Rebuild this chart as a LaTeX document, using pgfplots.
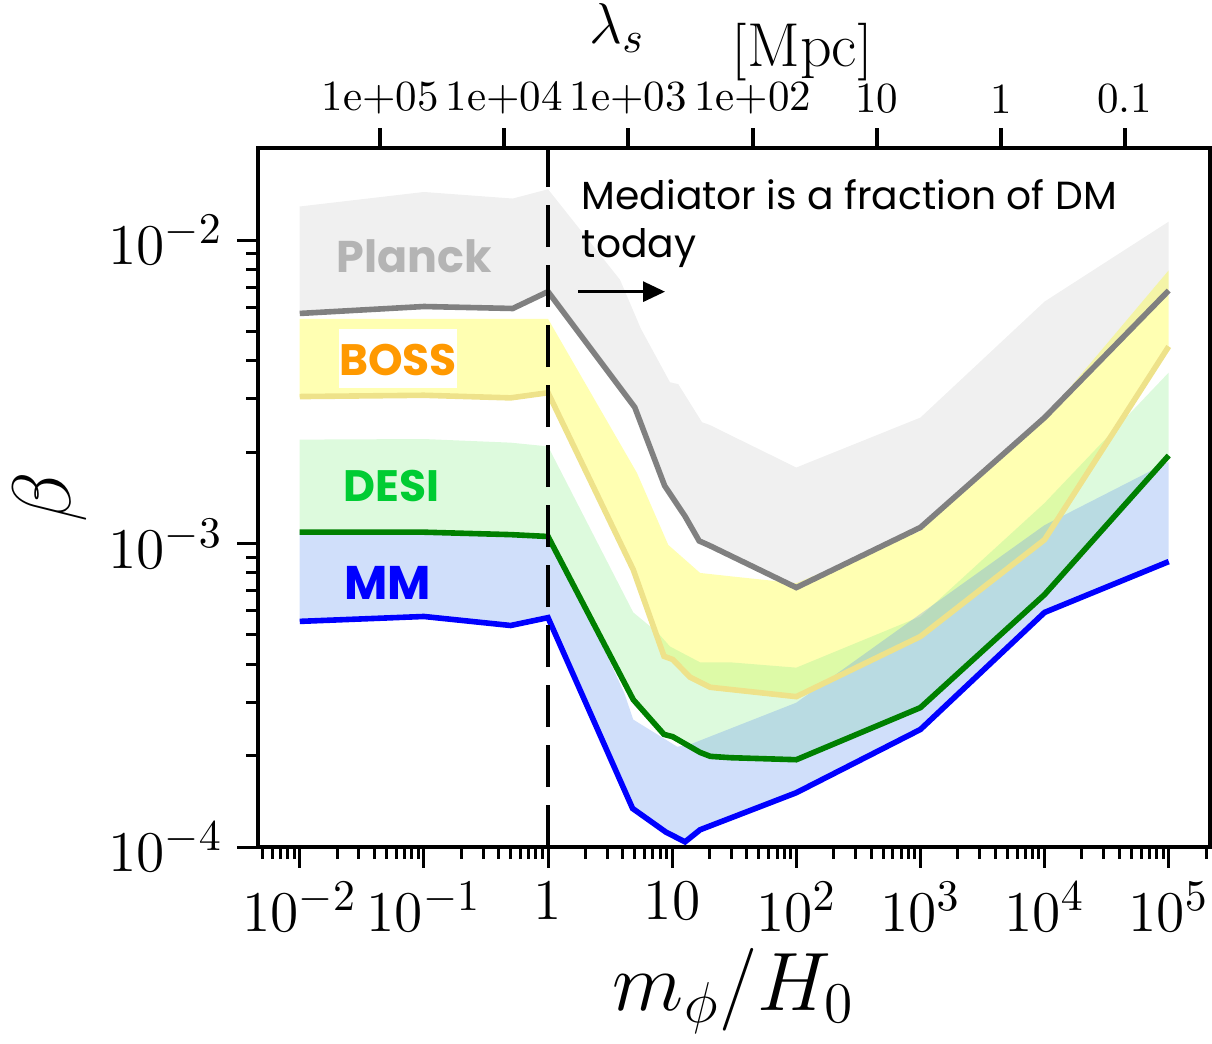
\documentclass[border=0pt]{standalone}
\usepackage{fontspec}
\usepackage{pgfplots}
\pgfplotsset{compat=1.18}
\usetikzlibrary{arrows.meta}
\newfontfamily\gothic{Poppins}
\definecolor{bandgray}{RGB}{211,211,211}
\definecolor{bandyellow}{RGB}{255,255,0}
\definecolor{bandgreen}{RGB}{144,238,144}
\definecolor{bandblue}{RGB}{100,149,237}
\definecolor{plancklinec}{RGB}{128,128,128}
\definecolor{bosslinec}{RGB}{238,226,138}
\definecolor{desilinec}{RGB}{0,128,0}
\definecolor{mmlinec}{RGB}{0,0,255}
\definecolor{plancktext}{RGB}{180,180,180}
\definecolor{bosstext}{RGB}{255,153,0}
\definecolor{desitext}{RGB}{0,204,51}
\definecolor{mmtext}{RGB}{0,0,255}
\begin{document}
\begin{tikzpicture}
\path[use as bounding box] (-64.5pt,-49pt) rectangle (238.5pt,211.75pt);
\begin{axis}[
  at={(0,0)}, anchor=south west,
  scale only axis, width=238pt, height=174.75pt,
  xmode=log, ymode=log,
  xmin=0.00461, xmax=2.15e5, ymin=1e-4, ymax=0.0201,
  axis line style={line width=1pt},
  tick style={line width=0.75pt, black},
  tick align=outside,
  major tick length=5.25pt, minor tick length=3pt,
  xtick pos=left, ytick pos=left,
  xtick={0.01,0.1,1,10,100,1000,10000,100000},
  xticklabels={$10^{-2}$,$10^{-1}$,$1$,$10$,$10^{2}$,$10^{3}$,$10^{4}$,$10^{5}$},
  minor xtick={0.005,0.006,0.007,0.008,0.009,0.02,0.03,0.04,0.05,0.06,0.07,0.08,0.09,0.2,0.3,0.4,0.5,0.6,0.7,0.8,0.9,2,3,4,5,6,7,8,9,20,30,40,50,60,70,80,90,200,300,400,500,600,700,800,900,2000,3000,4000,5000,6000,7000,8000,9000,20000,30000,40000,50000,60000,70000,80000,90000,200000},
  ytick={1e-4,1e-3,1e-2},
  yticklabels={$10^{-4}$,$10^{-3}$,$10^{-2}$},
  minor ytick={2e-4,3e-4,4e-4,5e-4,6e-4,7e-4,8e-4,9e-4,2e-3,3e-3,4e-3,5e-3,6e-3,7e-3,8e-3,9e-3},
  xticklabel style={font=\fontsize{15}{15}\selectfont},
  yticklabel style={font=\fontsize{15}{15}\selectfont},
  xlabel={$m_\phi/H_0$},
  xlabel style={font=\fontsize{21}{21}\selectfont, at={(axis description cs:0.5,-0.2332)}, anchor=base},
  ylabel={$\beta$},
  ylabel style={font=\fontsize{21}{21}\selectfont, at={(axis description cs:-0.2185,0.5)}, anchor=center},
  clip=true,
]
% Planck band
\addplot[draw=none, fill=bandgray, fill opacity=0.35] coordinates {
 (0.01,1.29e-2) (0.1,1.44e-2) (0.52,1.37e-2) (1,1.47e-2) (3.8,7.4e-3) (5.6,5.1e-3) (9.6,3.4e-3) (11.2,3.35e-3) (17.4,2.51e-3) (20,2.46e-3) (100,1.78e-3) (1000,2.6e-3) (10000,6.27e-3) (100000,1.15e-2)
 (100000,6.82e-3) (10000,2.6e-3) (1000,1.13e-3) (100,7.16e-4) (20,9.85e-4) (16.5,1.02e-3) (12.7,1.23e-3) (8.7,1.55e-3) (5,2.81e-3) (1,6.76e-3) (0.52,5.95e-3) (0.1,6.04e-3) (0.01,5.73e-3)
} -- cycle;
% BOSS band
\addplot[draw=none, fill=bandyellow, fill opacity=0.3] coordinates {
 (0.01,5.5e-3) (0.1,5.5e-3) (1,5.5e-3) (5.2,1.71e-3) (9.3,9.9e-4) (16.8,8.0e-4) (29.5,7.8e-4) (100,7.4e-4) (1000,1.1e-3) (10000,2.6e-3) (100000,7.95e-3)
 (100000,4.46e-3) (10000,1.03e-3) (1000,4.94e-4) (100,3.13e-4) (20.3,3.36e-4) (13.9,3.63e-4) (10.1,4.15e-4) (8.6,4.25e-4) (4.86,8.2e-4) (1,3.14e-3) (0.5,3.02e-3) (0.1,3.08e-3) (0.01,3.05e-3)
} -- cycle;
% DESI band
\addplot[draw=none, fill=bandgreen, fill opacity=0.3] coordinates {
 (0.01,2.2e-3) (0.1,2.21e-3) (0.5,2.15e-3) (1,2.09e-3) (4.86,5.93e-4) (7.6,5.1e-4) (9.6,4.58e-4) (16.8,4.06e-4) (29.5,4.06e-4) (100,3.9e-4) (1000,5.75e-4) (10000,1.36e-3) (100000,3.66e-3)
 (100000,1.95e-3) (10000,6.79e-4) (1000,2.88e-4) (100,1.94e-4) (29.5,1.97e-4) (20.3,1.99e-4) (16.8,2.05e-4) (10.1,2.31e-4) (8.6,2.35e-4) (4.86,3.06e-4) (1,1.055e-3) (0.5,1.07e-3) (0.1,1.09e-3) (0.01,1.09e-3)
} -- cycle;
% MM band
\addplot[draw=none, fill=bandblue, fill opacity=0.3] coordinates {
 (0.01,1.09e-3) (0.1,1.09e-3) (0.5,1.07e-3) (1,1.06e-3) (2.2,5.6e-4) (4.1,3.23e-4) (4.86,2.63e-4) (11,2.14e-4) (14,2.18e-4) (100,2.99e-4) (10000,1.15e-3) (100000,1.86e-3)
 (100000,8.72e-4) (10000,5.93e-4) (1000,2.44e-4) (100,1.51e-4) (16.8,1.14e-4) (12.7,1.04e-4) (8.9,1.12e-4) (4.8,1.34e-4) (1,5.7e-4) (0.5,5.37e-4) (0.1,5.75e-4) (0.01,5.54e-4)
} -- cycle;
% lines
\addplot[plancklinec, line width=1.4pt] coordinates {
 (0.01,5.73e-3) (0.1,6.04e-3) (0.52,5.95e-3) (1,6.76e-3) (5,2.81e-3) (8.7,1.55e-3) (12.7,1.23e-3) (16.5,1.02e-3) (20,9.85e-4) (100,7.16e-4) (1000,1.13e-3) (10000,2.6e-3) (100000,6.82e-3)};
\addplot[bosslinec, line width=1.4pt] coordinates {
 (0.01,3.05e-3) (0.1,3.08e-3) (0.5,3.02e-3) (1,3.14e-3) (4.86,8.2e-4) (8.6,4.25e-4) (10.1,4.15e-4) (13.9,3.63e-4) (20.3,3.36e-4) (100,3.13e-4) (1000,4.94e-4) (10000,1.03e-3) (100000,4.46e-3)};
\addplot[desilinec, line width=1.4pt] coordinates {
 (0.01,1.09e-3) (0.1,1.09e-3) (0.5,1.07e-3) (1,1.055e-3) (4.86,3.06e-4) (8.6,2.35e-4) (10.1,2.31e-4) (16.8,2.05e-4) (20.3,1.99e-4) (29.5,1.97e-4) (100,1.94e-4) (1000,2.88e-4) (10000,6.79e-4) (100000,1.95e-3)};
\addplot[mmlinec, line width=1.4pt] coordinates {
 (0.01,5.54e-4) (0.1,5.75e-4) (0.5,5.37e-4) (1,5.7e-4) (4.8,1.34e-4) (8.9,1.12e-4) (12.7,1.04e-4) (16.8,1.14e-4) (100,1.51e-4) (1000,2.44e-4) (10000,5.93e-4) (100000,8.72e-4)};
% vertical dashed line
\addplot[black, line width=0.8pt, dash pattern=on 10.5pt off 4.5pt] coordinates {(1,1e-4) (1,0.0201)};
% arrow
\addplot[black, line width=0.75pt, -{Triangle[length=5.5pt,width=5pt]}] coordinates {(1.745,6.76e-3) (8.76,6.76e-3)};
% labels
\node[font=\gothic\bfseries\fontsize{11.1}{12}\selectfont, text=plancktext] at (axis cs:0.0833,8.85e-3) {Planck};
\node[fill=white, inner sep=0pt, minimum width=29.5pt, minimum height=14.75pt] at (axis cs:0.0619,4.06e-3) {};
\node[font=\gothic\bfseries\fontsize{11}{12}\selectfont, text=bosstext] at (axis cs:0.0619,4.03e-3) {BOSS};
\node[font=\gothic\bfseries\fontsize{11}{12}\selectfont, text=desitext] at (axis cs:0.0548,1.545e-3) {DESI};
\node[font=\gothic\bfseries\fontsize{11.8}{12}\selectfont, text=mmtext] at (axis cs:0.0514,7.41e-4) {MM};
\node[font=\gothic\fontsize{9.8}{10}\selectfont, anchor=base west, inner sep=0pt] at (axis cs:1.844,1.259e-2) {Mediator is a fraction of DM};
\node[font=\gothic\fontsize{9.8}{10}\selectfont, anchor=base west, inner sep=0pt] at (axis cs:1.844,8.75e-3) {today};
\end{axis}
% top axis labels: x in log10(m_phi/H0), lambda_s = 4448/(m_phi/H0) Mpc
\begin{axis}[
  at={(0,0)}, anchor=south west,
  scale only axis, width=238pt, height=174.75pt,
  xmin=-2.336, xmax=5.333, ymin=0, ymax=1,
  axis line style={line width=1pt},
  xtick pos=right, xticklabel pos=right,
  ytick=\empty,
  xtick={-1.352,-0.352,0.648,1.648,2.648,3.648,4.648},
  xticklabels={1e+05,1e+04,1e+03,1e+02,10,1,0.1},
  tick align=outside, major tick length=5pt,
  xticklabel style={font=\fontsize{10.75}{11}\selectfont},
  xlabel={\raisebox{0.38em}{$\lambda_s$}\hspace{1.4em}$[\mathrm{Mpc}]$},
  xlabel style={font=\fontsize{15.5}{16}\selectfont, at={(axis description cs:0.497,1.116)}, anchor=base},
]
\addplot[draw=none] coordinates {(0,0.5)};
\end{axis}
% top tick marks
\begin{axis}[
  at={(0,0)}, anchor=south west,
  scale only axis, width=238pt, height=174.75pt,
  xmin=-2.336, xmax=5.333, ymin=0, ymax=1,
  axis line style={line width=1pt},
  xtick pos=right, xticklabel pos=right,
  ytick=\empty,
  xtick={-1.352,-0.352,0.648,1.648,2.648,3.648,4.648},
  xticklabels={},
  tick align=outside, major tick length=5pt,
  every tick/.style={line width=1pt, black},
  clip=false,
]
\addplot[draw=none] coordinates {(0,0.5)};
\end{axis}
\end{tikzpicture}
\end{document}
